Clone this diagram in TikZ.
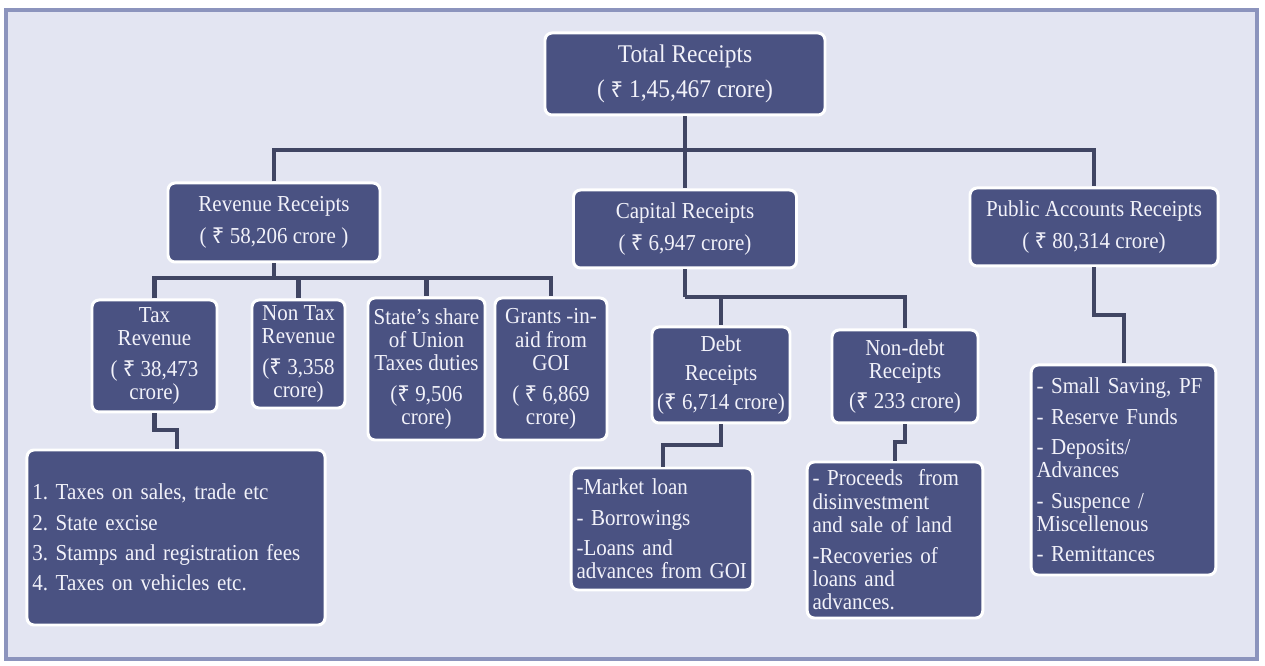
\documentclass[tikz,border=0pt]{standalone}
\usepackage{fontspec}
\setmainfont{Liberation Serif}[FakeStretch=0.92]
\newfontfamily\rupeefont{Noto Sans}
\newcommand{\rs}{{\rupeefont\fontsize{12.5}{13}\selectfont ₹}}
\usepackage{tikz}
\usetikzlibrary{calc}
\definecolor{pagebg}{rgb}{0.89, 0.90, 0.95}
\definecolor{framecol}{rgb}{0.55, 0.58, 0.74}
\definecolor{boxblue}{rgb}{0.29, 0.32, 0.51}
\definecolor{linecol}{rgb}{0.25, 0.27, 0.39}
\definecolor{boxtext}{rgb}{0.95, 0.95, 0.98}

\begin{document}
\begin{tikzpicture}
    [box/.style={draw=white,line width=1.7pt,fill=boxblue,rounded corners=4pt,
       text=boxtext,align=center,inner sep=2pt,font=\fontsize{13}{13.3}\selectfont\frenchspacing},
     listbox/.style={box,align=left,inner sep=3pt},
     link/.style={draw=linecol,line width=2.6pt}]

    \useasboundingbox (0,0) rectangle (25.3,-13.32);
    \fill[white] (0,0) rectangle (25.3,-13.32);
    \draw[framecol,line width=2.6pt,fill=pagebg] (0.12,-0.2) rectangle (25.14,-13.18);

% top level
\node[box,minimum width=5.6cm,minimum height=1.64cm,font=\fontsize{14.5}{15}\selectfont] (total) at (13.7,-1.48) {Total Receipts\\[5pt]( \rs\ 1,45,467 crore)};
\node[box,minimum width=4.24cm,minimum height=1.58cm] (revenue) at (5.48,-4.45) {Revenue Receipts\\[5pt]( \rs\ 58,206 crore )};
\node[box,minimum width=4.46cm,minimum height=1.56cm] (capital) at (13.7,-4.58) {Capital Receipts\\[5pt]( \rs\ 6,947 crore)};
\node[box,minimum width=4.96cm,minimum height=1.56cm] (public) at (21.88,-4.54) {Public Accounts Receipts\\[5pt]( \rs\ 80,314 crore)};

% revenue receipts
\node[box,minimum width=2.5cm,minimum height=2.24cm] (tax) at (3.09,-7.12) {Tax\\Revenue\\[4pt]( \rs\ 38,473\\crore)};
\node[box,minimum width=1.86cm,minimum height=2.16cm] (nontax) at (5.97,-7.08) {Non Tax\\Revenue\\[4pt](\rs\ 3,358\\crore)};
\node[box,minimum width=2.34cm,minimum height=2.84cm] (share) at (8.53,-7.38) {State's share\\of Union\\Taxes duties\\[4pt](\rs\ 9,506\\crore)};
\node[box,minimum width=2.24cm,minimum height=2.84cm] (grants) at (11.02,-7.38) {Grants -in-\\aid from\\GOI\\[4pt]( \rs\ 6,869\\crore)};

% capital receipts
\node[box,minimum width=2.76cm,minimum height=1.92cm] (debt) at (14.42,-7.5) {Debt\\[3pt]Receipts\\[3pt](\rs\ 6,714 crore)};
\node[box,minimum width=2.92cm,minimum height=1.86cm] (nondebt) at (18.1,-7.53) {Non-debt\\Receipts\\[4pt](\rs\ 233 crore)};

% lists
\node[listbox,minimum width=5.96cm,minimum height=3.5cm,text width=5.75cm] (taxlist) at (3.52,-10.75)
  {1. Taxes on sales, trade etc\\[4pt]2. State excise\\[4pt]3. Stamps and registration fees\\[4pt]4. Taxes on vehicles etc.};
\node[listbox,minimum width=3.6cm,minimum height=2.44cm,text width=3.42cm] (debtlist) at (13.24,-10.58)
  {-Market loan\\[4pt]- Borrowings\\[4pt]-Loans and\\advances from GOI};
\node[listbox,minimum width=3.48cm,minimum height=3.12cm,text width=3.3cm] (nondebtlist) at (17.9,-10.8)
  {- Proceeds\ \ from\\disinvestment\\and sale of land\\[4pt]-Recoveries of\\loans and\\advances.};
\node[listbox,minimum width=3.66cm,minimum height=4.2cm,text width=3.48cm] (publiclist) at (22.47,-9.4)
  {- Small Saving, PF\\[4pt]- Reserve Funds\\[4pt]- Deposits/\\Advances\\[4pt]- Suspence /\\Miscellenous\\[4pt]- Remittances};

% connectors
\coordinate (topbus) at (13.7,-3.0);
\coordinate (revbus) at (5.48,-5.56);
\coordinate (capbus) at (13.7,-5.94);
\coordinate (taxjog) at (3.54,-8.6);
\coordinate (debtjog) at (13.26,-8.9);
\coordinate (nondebtjog) at (17.9,-8.84);
\coordinate (publicjog) at (22.48,-6.3);

\draw[link] (total.south) -- (topbus);
\draw[link] (revenue.north) |- (topbus) -| (public.north);
\draw[link] (topbus) -- (capital.north);

\draw[link] (revenue.south) -- (revbus);
\draw[link] (tax.north) |- (revbus) -| (grants.north);
\draw[link] (revbus -| nontax.north) -- (nontax.north);
\draw[link] (revbus -| share.north) -- (share.north);

\draw[link] (capital.south) -- (capbus);
\draw[link] (capbus) -| (nondebt.north);
\draw[link] (capbus -| debt.north) -- (debt.north);

\draw[link] (tax.south) |- (taxjog) -- (taxjog |- taxlist.north);
\draw[link] (debt.south) |- (debtjog) -- (debtjog |- debtlist.north);
\draw[link] (nondebt.south) |- (nondebtjog) -- (nondebtjog |- nondebtlist.north);
\draw[link] (public.south) |- (publicjog) -- (publicjog |- publiclist.north);

  \end{tikzpicture}
\end{document}
